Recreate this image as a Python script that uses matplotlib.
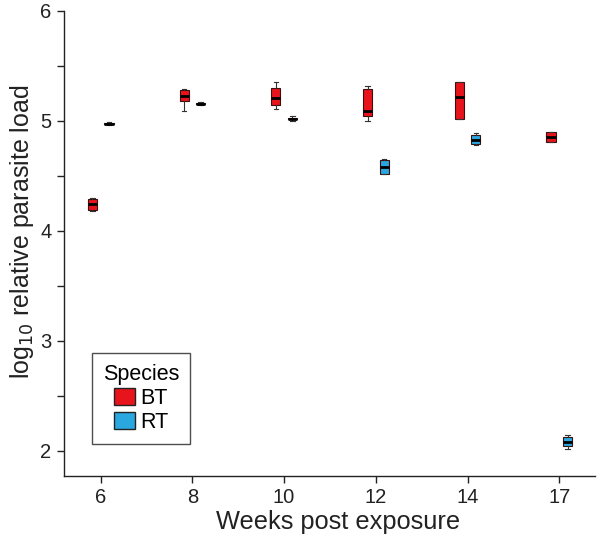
import matplotlib
matplotlib.use("Agg")
import matplotlib.pyplot as plt
from matplotlib.patches import Patch

plt.rcParams['font.family'] = ['Liberation Sans', 'DejaVu Sans']

weeks = ["6", "8", "10", "12", "14", "17"]

# box statistics (log10 relative parasite load)
bt_whislo = [4.18, 5.09, 5.11, 5.00, 5.02, 4.81]
bt_q1 = [4.19, 5.18, 5.14, 5.04, 5.02, 4.81]
bt_med = [4.24, 5.23, 5.21, 5.09, 5.215, 4.85]
bt_q3 = [4.29, 5.28, 5.30, 5.29, 5.35, 4.90]
bt_whishi = [4.30, 5.29, 5.35, 5.32, 5.35, 4.90]

rt_whislo = [4.965, 5.145, 5.00, 4.515, 4.78, 2.02]
rt_q1 = [4.97, 5.15, 5.015, 4.515, 4.79, 2.045]
rt_med = [4.975, 5.155, 5.02, 4.58, 4.83, 2.08]
rt_q3 = [4.985, 5.16, 5.03, 4.645, 4.87, 2.125]
rt_whishi = [4.99, 5.17, 5.04, 4.65, 4.89, 2.14]

species = ["BT", "RT"]
colors = {"BT": "#e8141c", "RT": "#2aa7df"}


def make_stats(lo, q1, med, q3, hi):
    return [dict(whislo=a, q1=b, med=c, q3=d, whishi=e, fliers=[])
            for a, b, c, d, e in zip(lo, q1, med, q3, hi)]


fig = plt.figure(figsize=(6.0, 5.42), dpi=100)
ax = fig.add_axes([0.1067, 0.1218, 0.885, 0.858])

pos = list(range(len(weeks)))
sets = {
    "BT": make_stats(bt_whislo, bt_q1, bt_med, bt_q3, bt_whishi),
    "RT": make_stats(rt_whislo, rt_q1, rt_med, rt_q3, rt_whishi),
}
offsets = {"BT": -0.09, "RT": 0.09}

for sp in species:
    ax.bxp(sets[sp], positions=[p + offsets[sp] for p in pos], widths=0.1,
           patch_artist=True, showfliers=False,
           boxprops=dict(facecolor=colors[sp], edgecolor="#3a1010", linewidth=0.8),
           medianprops=dict(color="black", linewidth=2.0),
           whiskerprops=dict(color="#333333", linewidth=0.8),
           capprops=dict(color="#333333", linewidth=0.8),
           capwidths=0.05)

ax.set_xlim(-0.4, 5.39)
ax.set_ylim(1.77, 6.0)
ax.set_xticks(pos)
ax.set_xticklabels(weeks)
yt = [2, 2.5, 3, 3.5, 4, 4.5, 5, 5.5, 6]
ax.set_yticks(yt)
ax.set_yticklabels([str(int(v)) if v == int(v) else "" for v in yt])

for s in ["top", "right"]:
    ax.spines[s].set_visible(False)
for s in ["left", "bottom"]:
    ax.spines[s].set_linewidth(1.0)
    ax.spines[s].set_color("#222222")
ax.tick_params(direction="out", length=5, width=1.0, labelsize=14.5,
               colors="#222222", pad=4)

ax.set_xlabel("Weeks post exposure", fontsize=18.3, color="#222222", labelpad=2)
ax.set_ylabel("log$_{10}$ relative parasite load", fontsize=18, color="#222222", labelpad=3)
ax.xaxis.label.set_x(0.517)
ax.yaxis.label.set_y(0.525)

handles = [Patch(facecolor=colors[sp], edgecolor="#222222", label=sp) for sp in species]
leg = ax.legend(handles=handles, title="Species", loc="lower left",
                bbox_to_anchor=(0.053, 0.069), fontsize=15.5, title_fontsize=15.5,
                frameon=True, fancybox=False, edgecolor="#222222",
                handlelength=0.95, handleheight=0.85, handletextpad=0.25,
                borderpad=0.5, labelspacing=0.15, borderaxespad=0)
leg.get_frame().set_linewidth(1.0)

fig.savefig("out.png", dpi=100)
